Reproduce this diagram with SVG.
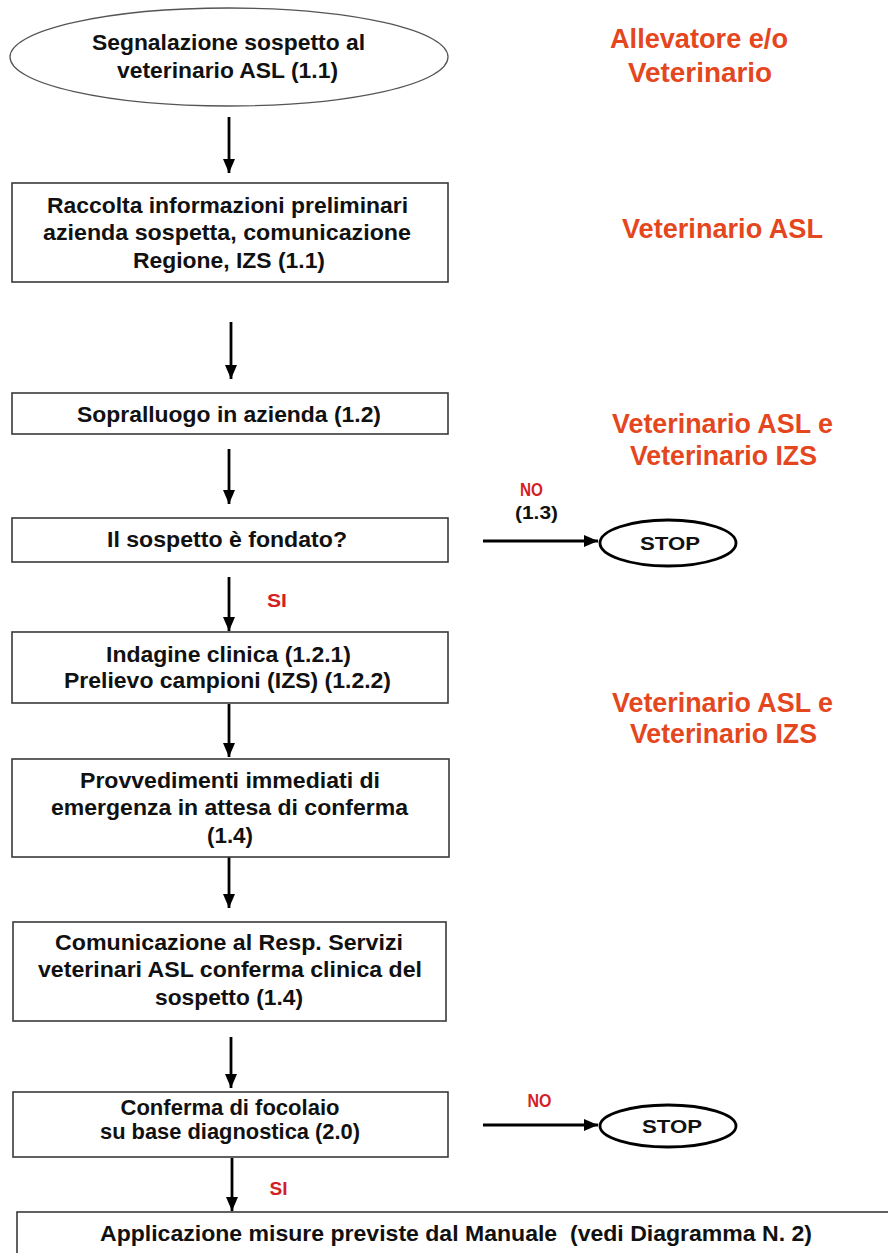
<svg xmlns="http://www.w3.org/2000/svg" width="888" height="1253" viewBox="0 0 888 1253">
<style>
.bx{fill:#fff;stroke:#3a3a3a;stroke-width:1.6}
.el{fill:#fff;stroke:#555;stroke-width:1.3}
.stop{fill:#fff;stroke:#000;stroke-width:2.8}
.t{font-family:"Liberation Sans",Arial,sans-serif;font-weight:bold;font-size:22px;fill:#111;text-anchor:middle}
.o{font-family:"Liberation Sans",Arial,sans-serif;font-weight:bold;font-size:27px;fill:#E4461E;text-anchor:middle}
.r{font-family:"Liberation Sans",Arial,sans-serif;font-weight:bold;font-size:19px;fill:#D41F26;text-anchor:middle}
.s{font-family:"Liberation Sans",Arial,sans-serif;font-weight:bold;font-size:19px;fill:#111;text-anchor:middle}
.c{stroke:#000;stroke-width:2.8;fill:none;marker-end:url(#ah)}
</style>
<defs>
<marker id="ah" markerUnits="userSpaceOnUse" markerWidth="16" markerHeight="16" viewBox="0 0 16 16" refX="14" refY="8" orient="auto">
<path d="M0,2 L14,8 L0,14 Z" fill="#000"/>
</marker>
</defs>
<rect width="888" height="1253" fill="#fff"/>

<g id="connectors">
<line class="c" x1="229" y1="117" x2="229" y2="173"/>
<line class="c" x1="231" y1="322" x2="231" y2="379"/>
<line class="c" x1="229" y1="449" x2="229" y2="504"/>
<line class="c" x1="229" y1="577" x2="229" y2="631"/>
<line class="c" x1="229" y1="704" x2="229" y2="757"/>
<line class="c" x1="229" y1="857" x2="229" y2="908"/>
<line class="c" x1="231" y1="1037" x2="231" y2="1088"/>
<line class="c" x1="232" y1="1158" x2="232" y2="1211"/>
<line class="c" x1="483" y1="541" x2="598" y2="541"/>
<line class="c" x1="483" y1="1125" x2="598" y2="1125"/>
<text class="r" x="531.5" y="496" textLength="23" lengthAdjust="spacingAndGlyphs">NO</text>
<text class="s" x="536.5" y="519" textLength="43" lengthAdjust="spacingAndGlyphs">(1.3)</text>
<text class="r" x="277" y="607" textLength="20" lengthAdjust="spacingAndGlyphs">SI</text>
<text class="r" x="539.5" y="1107" textLength="24" lengthAdjust="spacingAndGlyphs">NO</text>
<text class="r" x="278.5" y="1195" textLength="18" lengthAdjust="spacingAndGlyphs">SI</text>
</g>

<g id="n1">
<ellipse class="el" cx="229" cy="57" rx="219" ry="49"/>
<text class="t" x="228.5" y="50" textLength="273" lengthAdjust="spacingAndGlyphs">Segnalazione sospetto al</text>
<text class="t" x="227.5" y="78" textLength="221" lengthAdjust="spacingAndGlyphs">veterinario ASL (1.1)</text>
</g>

<g id="n2">
<rect class="bx" x="12" y="183" width="436" height="99"/>
<text class="t" x="227.5" y="213" textLength="361" lengthAdjust="spacingAndGlyphs">Raccolta informazioni preliminari</text>
<text class="t" x="227" y="240" textLength="368" lengthAdjust="spacingAndGlyphs">azienda sospetta, comunicazione</text>
<text class="t" x="229" y="268" textLength="192" lengthAdjust="spacingAndGlyphs">Regione, IZS (1.1)</text>
</g>

<g id="n3">
<rect class="bx" x="12" y="393" width="436" height="41"/>
<text class="t" x="229" y="422" textLength="304" lengthAdjust="spacingAndGlyphs">Sopralluogo in azienda (1.2)</text>
</g>

<g id="n4">
<rect class="bx" x="12" y="518" width="436" height="44"/>
<text class="t" x="227" y="547" textLength="240" lengthAdjust="spacingAndGlyphs">Il sospetto è fondato?</text>
</g>

<g id="stop1">
<ellipse class="stop" cx="668" cy="543" rx="68" ry="23"/>
<text class="s" x="670" y="550" textLength="60" lengthAdjust="spacingAndGlyphs">STOP</text>
</g>

<g id="n5">
<rect class="bx" x="12" y="632" width="436" height="71"/>
<text class="t" x="228.5" y="662" textLength="245" lengthAdjust="spacingAndGlyphs">Indagine clinica (1.2.1)</text>
<text class="t" x="227.5" y="688" textLength="327" lengthAdjust="spacingAndGlyphs">Prelievo campioni (IZS) (1.2.2)</text>
</g>

<g id="n6">
<rect class="bx" x="12" y="759" width="437" height="98"/>
<text class="t" x="230" y="788" textLength="300" lengthAdjust="spacingAndGlyphs">Provvedimenti immediati di</text>
<text class="t" x="229.5" y="815" textLength="357" lengthAdjust="spacingAndGlyphs">emergenza in attesa di conferma</text>
<text class="t" x="230" y="843" textLength="46" lengthAdjust="spacingAndGlyphs">(1.4)</text>
</g>

<g id="n7">
<rect class="bx" x="13" y="922" width="433" height="99"/>
<text class="t" x="229" y="950" textLength="348" lengthAdjust="spacingAndGlyphs">Comunicazione al Resp. Servizi</text>
<text class="t" x="230" y="977" textLength="384" lengthAdjust="spacingAndGlyphs">veterinari ASL conferma clinica del</text>
<text class="t" x="229" y="1005" textLength="148" lengthAdjust="spacingAndGlyphs">sospetto (1.4)</text>
</g>

<g id="n8">
<rect class="bx" x="13" y="1092" width="435" height="65"/>
<text class="t" x="230" y="1115" textLength="219" lengthAdjust="spacingAndGlyphs">Conferma di focolaio</text>
<text class="t" x="230" y="1139" textLength="260" lengthAdjust="spacingAndGlyphs">su base diagnostica (2.0)</text>
</g>

<g id="stop2">
<ellipse class="stop" cx="668" cy="1126" rx="68" ry="21"/>
<text class="s" x="672" y="1133" textLength="60" lengthAdjust="spacingAndGlyphs">STOP</text>
</g>

<g id="n9">
<rect class="bx" x="17" y="1212" width="900" height="60"/>
<text class="t" x="456" y="1241" textLength="712" lengthAdjust="spacingAndGlyphs" xml:space="preserve">Applicazione misure previste dal Manuale  (vedi Diagramma N. 2)</text>
</g>

<g id="roles">
<text class="o" x="699" y="48" textLength="178" lengthAdjust="spacingAndGlyphs">Allevatore e/o</text>
<text class="o" x="700" y="82" textLength="144" lengthAdjust="spacingAndGlyphs">Veterinario</text>
<text class="o" x="722.5" y="238" textLength="201" lengthAdjust="spacingAndGlyphs">Veterinario ASL</text>
<text class="o" x="722.5" y="433" textLength="221" lengthAdjust="spacingAndGlyphs">Veterinario ASL e</text>
<text class="o" x="723.5" y="465" textLength="187" lengthAdjust="spacingAndGlyphs">Veterinario IZS</text>
<text class="o" x="722.5" y="712" textLength="221" lengthAdjust="spacingAndGlyphs">Veterinario ASL e</text>
<text class="o" x="723.5" y="743" textLength="187" lengthAdjust="spacingAndGlyphs">Veterinario IZS</text>
</g>
</svg>
